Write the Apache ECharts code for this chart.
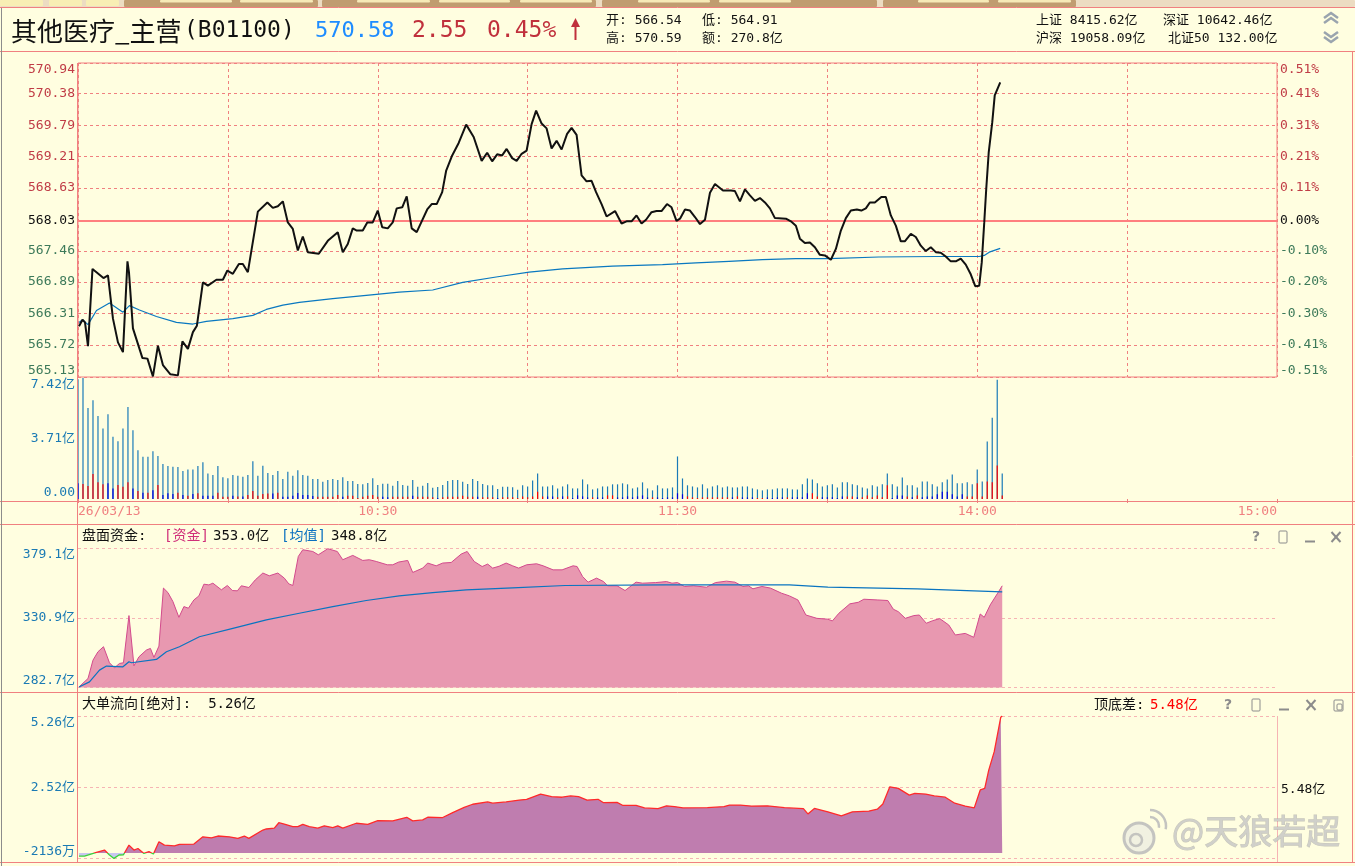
<!DOCTYPE html>
<html><head><meta charset="utf-8">
<script src="https://cdn.jsdelivr.net/npm/echarts@6/dist/echarts.min.js"></script>
<style>html,body{margin:0;padding:0;background:#fffee0;overflow:hidden}#c{width:1355px;height:866px}</style>
</head><body><div id="c"></div><script>
// ---------- DATA ----------
const preClose = 568.03;
const xLabelAt = [0, 60, 120, 180, 240];
const xLabels = ['26/03/13', '10:30', '11:30', '14:00', '15:00'];
const priceTicks = [565.13, 565.72, 566.31, 566.89, 567.46, 568.03, 568.63, 569.21, 569.79, 570.38, 570.94];
const volTicks = [0, 3.71, 7.42];
const capTicks = [282.7, 330.9, 379.1];
const bigTicks = [-0.2136, 2.52, 5.26];
const bigTickLabels = ['-2136万', '2.52亿', '5.26亿'];

// price line: [minute from 9:30, price]
const priceData = [[0.2,566.07],[0.9,566.19],[1.4,566.14],[2.0,565.70],[2.9,567.13],[5.1,566.96],[6.0,567.01],[7.0,566.21],[8.0,565.77],[9.0,565.59],
[9.9,567.27],[10.2,567.07],[11.0,566.03],[12.9,565.48],[13.9,565.47],[15.0,565.14],[16.0,565.71],[17.0,565.35],[18.5,565.18],[20.0,565.16],
[20.9,565.79],[22.0,565.65],[23.0,565.96],[23.8,566.08],[25.0,566.88],[26.0,566.82],[27.7,566.93],[29.0,566.93],[29.9,567.10],[31.0,567.04],
[32.2,567.22],[33.0,567.22],[34.0,567.07],[36.0,568.19],[37.9,568.36],[39.0,568.26],[40.0,568.29],[41.0,568.38],[42.0,567.99],[43.0,567.87],
[44.0,567.47],[45.0,567.73],[46.0,567.44],[48.2,567.41],[50.0,567.65],[52.0,567.81],[53.0,567.44],[54.0,567.59],[55.0,567.88],[55.8,567.84],
[57.0,567.84],[57.9,567.99],[59.0,567.99],[60.0,568.21],[60.9,567.90],[62.0,567.88],[63.0,567.99],[63.8,568.25],[64.9,568.27],[65.8,568.47],
[66.8,567.88],[67.8,567.81],[69.9,568.23],[70.8,568.33],[71.8,568.33],[72.9,568.55],[73.7,568.95],[74.9,569.23],[76.2,569.46],[77.7,569.80],
[79.2,569.57],[80.8,569.13],[81.9,569.28],[82.9,569.12],[83.9,569.25],[84.9,569.23],[85.8,569.35],[86.9,569.18],[87.8,569.13],[88.8,569.26],
[89.8,569.32],[90.8,569.81],[91.7,570.06],[92.8,569.82],[93.8,569.73],[94.8,569.36],[95.8,569.50],[96.8,569.34],[97.9,569.63],[98.8,569.74],
[99.8,569.61],[100.8,568.86],[101.8,568.75],[102.8,568.76],[103.7,568.55],[104.8,568.33],[105.8,568.10],[107.5,568.20],[108.8,567.97],[109.8,568.01],
[110.8,568.01],[111.8,568.12],[112.8,567.97],[113.7,568.04],[114.8,568.18],[115.8,568.20],[116.8,568.20],[117.9,568.33],[118.8,568.27],[119.8,568.02],
[120.5,568.06],[121.5,568.23],[122.5,568.21],[123.5,568.09],[124.5,567.96],[125.5,568.04],[126.5,568.54],[127.5,568.70],[129.1,568.58],[130.7,568.58],
[131.5,568.57],[132.5,568.38],[133.5,568.60],[134.5,568.49],[135.5,568.39],[136.5,568.44],[137.5,568.36],[138.5,568.25],[139.5,568.07],[141.7,568.06],
[142.7,568.01],[143.7,567.93],[144.5,567.69],[145.5,567.61],[146.5,567.62],[147.5,567.53],[148.5,567.39],[149.5,567.38],[150.7,567.30],[151.7,567.50],
[152.7,567.84],[153.7,568.07],[154.7,568.21],[155.9,568.23],[156.8,568.21],[157.7,568.25],[158.5,568.36],[159.5,568.36],[160.8,568.46],[161.7,568.46],
[162.7,568.12],[163.7,567.93],[164.7,567.64],[165.5,567.64],[166.7,567.78],[167.7,567.72],[168.7,567.56],[169.7,567.46],[170.7,567.53],[171.7,567.44],
[172.7,567.43],[173.7,567.36],[174.7,567.27],[175.7,567.27],[176.7,567.32],[177.7,567.21],[178.7,567.03],[179.6,566.81],[180.4,566.82],[180.9,567.25],
[181.4,567.99],[181.8,568.61],[182.3,569.29],[183.0,569.84],[183.5,570.34],[184.6,570.58]];

// average price line
const avgPriceData = [[0.2,566.14],[0.9,566.19],[2.0,566.10],[3.7,566.36],[6.3,566.50],[9.0,566.33],[10.3,566.45],[12.3,566.37],[15.7,566.25],[19.7,566.14],
[23.0,566.11],[25.7,566.16],[31.0,566.21],[35.0,566.27],[37.7,566.38],[41.0,566.46],[44.3,566.51],[51.0,566.58],[57.7,566.64],[64.3,566.70],
[71.0,566.74],[77.0,566.88],[83.7,566.98],[90.3,567.07],[97.0,567.13],[107.0,567.18],[117.0,567.21],[123.7,567.24],[130.3,567.27],[137.0,567.30],
[143.7,567.32],[150.3,567.32],[160.3,567.35],[171.7,567.36],[180.4,567.36],[181.4,567.38],[182.4,567.44],[184.6,567.51]];

// per-minute turnover (亿) and the coloured lower part (+ red / - blue)
const vol = [7.35,7.42,5.58,6.05,5.09,4.32,5.19,3.81,3.54,4.32,
5.64,4.22,2.99,2.59,2.59,2.93,2.63,2.14,2.02,1.98,
1.96,1.71,1.81,1.81,2.02,2.26,1.57,1.47,2.02,1.34,
1.28,1.47,1.43,1.36,1.47,2.32,1.43,2.04,1.59,1.47,
1.71,1.22,1.67,1.43,1.77,1.47,1.43,1.22,1.22,1.06,
1.16,1.22,1.16,1.34,1.10,1.10,0.92,0.90,0.98,1.28,
0.86,0.94,0.94,0.81,1.10,0.86,0.81,1.16,0.75,0.81,
0.98,0.69,0.73,0.86,1.10,1.16,1.16,1.06,0.92,1.22,
1.10,0.92,0.84,0.84,0.61,0.75,0.75,0.72,0.57,0.84,
0.77,1.14,1.57,0.77,0.77,0.84,0.65,0.77,0.90,0.65,
0.65,1.20,0.90,0.59,0.65,0.77,0.77,0.90,0.90,0.96,
0.90,0.65,0.71,1.02,0.65,0.53,0.84,0.65,0.65,0.71,
2.61,1.26,0.84,0.77,0.71,0.90,0.65,0.77,0.84,0.71,
0.77,0.71,0.71,0.77,0.77,0.65,0.59,0.53,0.59,0.59,
0.65,0.65,0.65,0.59,0.59,0.90,1.26,1.20,0.96,0.77,
0.84,0.90,0.71,1.02,1.02,0.90,0.84,0.71,0.65,0.84,
0.77,0.90,1.57,0.90,0.77,1.32,0.84,0.84,0.71,1.08,
1.08,0.90,0.77,1.02,1.20,1.51,0.96,0.96,1.02,0.90,
1.81,1.08,3.52,4.99,7.31,1.57];
const volPart = [-0.96,0.92,0.79,1.53,1.02,0.90,-0.96,-0.65,0.86,0.75,
1.02,-0.65,0.49,-0.39,0.39,-0.53,0.86,-0.24,-0.35,-0.31,
0.39,-0.24,0.20,-0.31,0.35,-0.20,-0.20,-0.20,0.39,0.14,
0.14,-0.20,0.16,-0.16,0.24,0.49,0.20,0.31,0.33,-0.33,
0.39,-0.14,-0.14,-0.20,-0.37,-0.24,-0.24,-0.18,0.14,0.14,
0.14,0.14,0.24,-0.14,0.20,0.20,0.06,0.14,0.20,0.24,
0.14,-0.14,-0.10,0.14,0.14,0.14,0.14,-0.20,0.14,0.14,
0.14,0.10,-0.06,0.10,0.14,0.14,0.14,0.20,0.14,0.14,
-0.14,0.10,0.10,0.10,-0.06,0.10,0.10,0.10,0.06,0.16,
0.10,0.16,0.45,0.16,-0.16,-0.16,0.10,-0.16,0.16,-0.06,
-0.22,-0.16,-0.10,0.10,-0.10,-0.10,0.22,0.22,-0.10,-0.10,
-0.16,-0.10,-0.16,-0.22,-0.10,0.10,-0.10,-0.06,-0.10,-0.10,
-0.35,-0.29,0.16,0.10,0.06,0.10,0.10,0.10,0.10,0.10,
0.10,-0.10,0.16,-0.10,-0.10,-0.10,0.06,0.06,-0.10,-0.06,
-0.10,-0.10,0.10,-0.10,-0.10,-0.10,-0.35,0.35,0.16,-0.10,
-0.10,-0.10,-0.06,-0.16,0.16,0.16,-0.10,0.10,0.22,0.10,
0.22,0.10,0.84,-0.06,-0.22,-0.22,0.16,-0.10,0.22,-0.10,
-0.16,-0.16,-0.29,-0.45,-0.45,-0.29,-0.16,-0.29,0.16,0.16,
0.96,0.16,1.08,1.02,2.06,0.22];

// 盘面资金 (亿)
const capData = [[0.2,283.1],[2.0,288.9],[3.0,301.6],[4.0,307.4],[5.1,310.9],[5.5,310.9],[6.3,299.8],[7.3,296.3],[8.3,299.3],[9.1,299.8],
[10.2,332.4],[11.2,297.7],[12.2,303.9],[13.7,308.6],[14.5,309.7],[15.2,303.5],[16.2,311.3],[17.1,351.4],[18.0,348.3],[19.0,342.1],
[20.2,331.2],[21.2,338.6],[22.1,337.5],[23.2,343.2],[24.2,346.0],[25.2,354.1],[26.2,353.6],[27.0,354.8],[28.7,350.2],[29.9,353.2],
[30.9,349.7],[31.9,349.5],[32.7,353.0],[34.2,351.8],[35.5,357.1],[37.0,361.8],[38.3,359.9],[40.0,361.8],[41.3,358.3],[42.2,354.3],
[43.0,353.2],[44.1,373.3],[45.0,377.9],[47.0,376.7],[48.1,374.4],[50.0,378.6],[51.9,376.7],[53.0,371.0],[55.0,374.0],[57.0,370.5],
[58.3,371.0],[59.7,369.8],[61.9,367.5],[63.0,367.5],[64.2,369.4],[66.0,370.5],[67.0,362.2],[69.0,365.2],[70.0,368.7],[71.7,366.8],
[73.0,368.7],[74.7,369.1],[76.7,374.9],[77.9,376.7],[79.3,369.8],[80.9,366.3],[82.0,368.0],[83.0,365.2],[84.3,366.5],[85.7,368.7],
[87.0,366.8],[88.2,365.2],[89.8,367.5],[91.8,368.2],[93.1,366.8],[95.1,364.0],[96.9,364.0],[99.1,366.8],[99.9,366.3],[101.0,359.4],
[102.1,355.5],[103.8,358.3],[105.2,355.9],[106.0,353.0],[107.9,353.0],[109.5,349.7],[111.7,355.5],[113.0,354.8],[115.6,355.2],[117.8,355.9],
[118.9,354.8],[120.0,355.2],[121.4,352.5],[123.2,353.0],[125.8,352.0],[127.6,355.2],[129.8,356.2],[131.5,355.5],[133.1,352.5],[134.2,353.0],
[135.1,350.9],[136.9,352.5],[138.6,351.4],[140.8,347.9],[142.4,346.0],[144.1,343.2],[145.7,332.8],[147.9,330.5],[150.1,329.9],[151.0,328.7],
[152.3,334.0],[154.5,340.5],[156.2,341.6],[157.3,343.7],[160.1,343.2],[162.1,342.8],[163.2,336.8],[164.2,335.1],[165.6,330.5],[167.3,332.4],
[168.4,332.8],[169.8,327.1],[171.1,328.9],[172.5,330.3],[174.3,325.9],[175.6,319.0],[177.6,320.1],[179.3,317.4],[180.6,333.5],[181.4,331.2],
[182.6,339.8],[184.0,347.4],[185.0,353.0]];
const capAvgData = [[0.2,283.1],[2.3,286.6],[4.3,294.7],[5.7,297.5],[9.0,297.0],[10.2,300.5],[10.7,299.8],[15.7,302.1],[17.7,307.4],[20.3,310.9],
[24.3,317.8],[31.0,323.6],[37.7,329.4],[44.3,334.0],[51.0,338.6],[57.7,342.8],[64.3,346.0],[71.0,348.3],[77.7,350.2],[87.0,351.6],
[97.5,353.2],[117.5,353.6],[142.4,353.6],[150.1,352.0],[168.0,350.9],[185.0,348.8]];

// 大单流向 (亿)
const bigData = [[0.2,-0.12],[1.3,-0.12],[3.7,0.02],[5.3,0.11],[6.3,-0.08],[7.2,-0.21],[8.2,-0.08],[9.1,-0.07],[10.2,0.30],[11.2,0.11],
[12.0,0.17],[13.2,-0.02],[14.2,0.05],[15.1,-0.04],[16.2,0.43],[17.3,0.30],[19.3,0.27],[20.3,0.33],[23.2,0.34],[25.0,0.62],
[26.7,0.58],[28.0,0.65],[30.3,0.62],[32.0,0.56],[33.3,0.65],[34.2,0.56],[37.0,0.88],[37.7,0.92],[39.3,0.95],[40.2,1.16],
[41.3,1.11],[43.0,1.01],[44.0,1.01],[45.0,1.10],[46.3,1.01],[48.0,0.95],[49.3,1.04],[51.0,0.97],[52.0,1.04],[53.0,0.95],
[55.7,1.14],[58.0,1.10],[60.0,1.24],[63.0,1.23],[65.8,1.37],[67.0,1.23],[69.0,1.27],[70.0,1.37],[73.0,1.36],[75.0,1.55],
[77.3,1.75],[79.0,1.87],[82.0,1.96],[83.0,1.91],[85.7,1.96],[88.3,2.03],[89.8,2.06],[92.6,2.26],[94.8,2.16],[96.9,2.14],
[98.6,2.19],[100.2,2.16],[101.9,2.03],[104.1,2.06],[105.2,1.93],[107.9,1.94],[109.0,1.83],[111.7,1.83],[113.4,1.73],[116.1,1.70],
[117.8,1.81],[119.4,1.78],[121.1,1.73],[126.0,1.74],[129.3,1.78],[130.4,1.84],[132.6,1.84],[134.8,1.80],[138.0,1.81],[141.4,1.74],
[145.2,1.70],[146.1,1.50],[147.4,1.71],[150.1,1.58],[152.8,1.42],[155.0,1.58],[158.3,1.61],[160.0,1.68],[161.1,1.88],[162.5,2.54],
[164.2,2.48],[166.4,2.22],[167.5,2.29],[169.7,2.26],[171.4,2.19],[173.6,2.14],[175.5,1.91],[177.6,1.80],[179.4,1.73],[180.6,2.42],
[181.5,2.48],[182.3,3.18],[183.4,3.89],[184.7,5.21],[185.0,5.26]];

// ---------- STYLE ----------
const MONO = '"DejaVu Sans Mono","Noto Sans CJK SC",monospace';
const CJK = '"Noto Sans CJK SC","DejaVu Sans",sans-serif';
const PINK = '#f08080', LPINK = '#f6b4b4';
const RED = '#c03c46', GREEN = '#3d7a5a', BLUE = '#1a7ab4';
const GL = 78, GW = 1199;

function priceColor(v) {
  v = parseFloat(v);
  if (Math.abs(v - preClose) < 0.001) return '#111';
  return v > preClose ? RED : GREEN;
}
function near(arr, v) { let b = 0; arr.forEach((a, i) => { if (Math.abs(a - v) < Math.abs(arr[b] - v)) b = i; }); return b; }

function T(text, x, y, fill, font, align) {
  return { type: 'text', silent: true, z: 50, style: { text, x, y, fill, font, align: align || 'left', verticalAlign: 'middle', textAlign: align || 'left', textVerticalAlign: 'middle' } };
}
function L(x1, y1, x2, y2, stroke, w) {
  return { type: 'line', silent: true, z: 40, shape: { x1, y1, x2, y2 }, style: { stroke, lineWidth: w || 1 } };
}
function R(x, y, w, h, fill, stroke) {
  return { type: 'rect', silent: true, z: 30, shape: { x, y, width: w, height: h, r: 1 }, style: { fill: fill || 'none', stroke: stroke || null, lineWidth: 1 } };
}
function PL(points, stroke, w) {
  return { type: 'polyline', silent: true, z: 40, shape: { points }, style: { stroke, lineWidth: w || 1, fill: 'none' } };
}

const g = [];
// top tab strip
g.push(R(0, 0, 1355, 7, '#ecdcc2'));
[[0, 43], [49, 82], [86, 119]].forEach(a => g.push(R(a[0], 0, a[1] - a[0], 6, '#f8eeb4')));
[[124, 318], [322, 596], [602, 877], [883, 1076]].forEach(a => g.push(R(a[0], 0, a[1] - a[0], 7, '#c09c70')));
[[160, 232], [240, 313], [357, 430], [439, 510], [520, 592], [638, 710], [719, 791], [918, 989], [998, 1071]].forEach(a => g.push(R(a[0], 0, a[1] - a[0], 2.5, '#f6eab8')));
// frame lines
g.push(L(0, 7.5, 1355, 7.5, PINK));
g.push(L(0, 51.5, 1355, 51.5, PINK));
g.push(L(0, 501.5, 1355, 501.5, PINK));
g.push(L(0, 524.5, 1355, 524.5, PINK));
g.push(L(0, 692.5, 1355, 692.5, PINK));
g.push(L(0, 862.5, 1355, 862.5, PINK));
g.push(L(77.5, 63, 77.5, 862, PINK));
g.push(L(1.5, 8, 1.5, 866, '#8c8c8c'));
g.push(L(1352.5, 51, 1352.5, 862, PINK));
g.push(L(1277.5, 716, 1277.5, 862, LPINK));
// header texts
g.push(T('其他医疗_主营', 11, 31, '#111', '26px ' + CJK));
g.push(T('(B01100)', 184, 31, '#111', '23px ' + MONO));
g.push(T('570.58', 315, 31, '#1e8cff', '22px ' + MONO));
g.push(T('2.55', 412, 31, '#c0303c', '23px ' + MONO));
g.push(T('0.45%', 487, 31, '#c0303c', '23px ' + MONO));
g.push(L(575.5, 40, 575.5, 22, '#c0303c', 2));
g.push({ type: 'polygon', silent: true, z: 40, shape: { points: [[571, 27], [575.5, 18], [580, 27]] }, style: { fill: '#c0303c' } });
g.push(T('开: 566.54', 606, 21, '#111', '13px ' + MONO));
g.push(T('高: 570.59', 606, 39, '#111', '13px ' + MONO));
g.push(T('低: 564.91', 702, 21, '#111', '13px ' + MONO));
g.push(T('额: 270.8亿', 702, 39, '#111', '13px ' + MONO));
g.push(T('上证 8415.62亿', 1036, 21, '#111', '13px ' + MONO));
g.push(T('深证 10642.46亿', 1163, 21, '#111', '13px ' + MONO));
g.push(T('沪深 19058.09亿', 1036, 39, '#111', '13px ' + MONO));
g.push(T('北证50 132.00亿', 1168, 39, '#111', '13px ' + MONO));
g.push(PL([[1324, 18], [1331, 13], [1338, 18]], '#9aa4ae', 2.5));
g.push(PL([[1324, 23], [1331, 18], [1338, 23]], '#9aa4ae', 2.5));
g.push(PL([[1324, 32], [1331, 37], [1338, 32]], '#9aa4ae', 2.5));
g.push(PL([[1324, 37], [1331, 42], [1338, 37]], '#9aa4ae', 2.5));
// middle panel title
g.push(T('盘面资金:', 82, 536, '#111', '14px ' + MONO));
g.push(T('[资金]', 164, 536, '#d0307a', '14px ' + MONO));
g.push(T('353.0亿', 213, 536, '#111', '14px ' + MONO));
g.push(T('[均值]', 281, 536, '#0a70c0', '14px ' + MONO));
g.push(T('348.8亿', 331, 536, '#111', '14px ' + MONO));
// bottom panel title
g.push(T('大单流向[绝对]:  5.26亿', 82, 704, '#111', '14px ' + MONO));
g.push(T('顶底差:', 1094, 705, '#111', '14px ' + MONO));
g.push(T('5.48亿', 1150, 705, '#ff0000', '14px ' + MONO));
g.push(T('5.48亿', 1281, 790, '#111', '13px ' + MONO));
// panel icons
function icons(y, xs, extra) {
  const c = '#8c8c8c';
  g.push(T('?', xs[0], y, c, 'bold 14px "DejaVu Sans"', 'center'));
  g.push(R(xs[1] - 4, y - 6, 8, 12, null, c));
  g.push(L(xs[2] - 5, y + 4.5, xs[2] + 5, y + 4.5, c, 2));
  g.push(L(xs[3] - 4.5, y - 5, xs[3] + 4.5, y + 5, c, 2));
  g.push(L(xs[3] + 4.5, y - 5, xs[3] - 4.5, y + 5, c, 2));
  if (extra) { g.push(R(xs[4] - 4, y - 5, 9, 11, null, c)); g.push(R(xs[4] - 1, y - 1, 5, 6, '#fffee0', c)); }
}
icons(537, [1256, 1283, 1310, 1336]);
icons(705, [1228, 1256, 1284, 1311, 1338], true);
// watermark
g.push({ type: 'circle', silent: true, z: 60, shape: { cx: 1139, cy: 838, r: 15 }, style: { fill: 'rgba(235,235,225,0.7)', stroke: '#c4c4c0', lineWidth: 3 } });
g.push({ type: 'circle', silent: true, z: 61, shape: { cx: 1136, cy: 840, r: 6 }, style: { fill: 'none', stroke: '#c4c4c0', lineWidth: 2.5 } });
g.push({ type: 'arc', silent: true, z: 61, shape: { cx: 1150, cy: 826, r: 9, startAngle: -Math.PI / 2, endAngle: 0.2 }, style: { stroke: '#c4c4c0', lineWidth: 2.5, fill: 'none' } });
g.push({ type: 'arc', silent: true, z: 61, shape: { cx: 1150, cy: 826, r: 16, startAngle: -Math.PI / 2, endAngle: 0.2 }, style: { stroke: '#c4c4c0', lineWidth: 2.5, fill: 'none' } });
g.push({ type: 'text', silent: true, z: 60, style: { text: '@天狼若超', x: 1172, y: 831, fill: 'rgba(205,205,200,0.95)', stroke: 'rgba(150,150,150,0.5)', lineWidth: 1, font: '34px ' + CJK, align: 'left', verticalAlign: 'middle', textAlign: 'left', textVerticalAlign: 'middle' } });

// ---------- CHART ----------
const chart = echarts.init(document.getElementById('c'), null, { renderer: 'canvas' });
const hiddenX = (gi, extra) => Object.assign({
  type: 'value', gridIndex: gi, min: 0, max: 240, interval: 30,
  axisLine: { show: false }, axisTick: { show: false }, axisLabel: { show: false }, splitLine: { show: false }
}, extra || {});
const baseY = (gi, min, max, ticks, fmt, color, extra) => Object.assign({
  type: 'value', gridIndex: gi, min, max, position: 'left',
  axisLine: { show: false },
  axisTick: { show: false, customValues: ticks },
  axisLabel: {
    customValues: ticks, formatter: fmt, color, fontFamily: MONO, fontSize: 13, margin: 3,
    showMinLabel: true, showMaxLabel: true, verticalAlignMinLabel: 'bottom', verticalAlignMaxLabel: 'top'
  },
  splitLine: { show: true, lineStyle: { color: LPINK, type: [3, 3], width: 1 } }
}, extra || {});

chart.setOption({
  animation: false,
  backgroundColor: '#fffee0',
  textStyle: { fontFamily: MONO },
  grid: [
    { left: GL, top: 63, width: GW, height: 314, show: true, borderColor: PINK, borderWidth: 1, backgroundColor: 'transparent', outerBoundsMode: 'none', containLabel: false },
    { left: GL, top: 378, width: GW, height: 121, outerBoundsMode: 'none', containLabel: false },
    { left: GL, top: 548, width: GW, height: 139.5, outerBoundsMode: 'none', containLabel: false },
    { left: GL, top: 716, width: GW, height: 142.5, outerBoundsMode: 'none', containLabel: false }
  ],
  xAxis: [
    hiddenX(0, { splitLine: { show: true, lineStyle: { color: PINK, type: [3, 3], width: 1 } } }),
    hiddenX(1, {
      axisTick: { show: true, length: 4, inside: false, lineStyle: { color: PINK } },
      axisLabel: {
        show: true, customValues: xLabelAt, formatter: v => xLabels[near(xLabelAt, v)],
        color: PINK, fontFamily: MONO, fontSize: 13, margin: 6, alignMinLabel: 'left', alignMaxLabel: 'right',
        showMinLabel: true, showMaxLabel: true
      }
    }),
    hiddenX(2),
    hiddenX(3)
  ],
  yAxis: [
    baseY(0, 565.13, 570.94, priceTicks, v => parseFloat(v).toFixed(2), priceColor,
      { splitLine: { show: true, lineStyle: { color: PINK, type: [3, 3], width: 1 } } }),
    baseY(0, 565.13, 570.94, priceTicks, v => ((parseFloat(v) / preClose - 1) * 100).toFixed(2) + '%', priceColor,
      { position: 'right', splitLine: { show: false } }),
    baseY(1, 0, 7.42, volTicks, v => (parseFloat(v) === 0 ? '0.00' : parseFloat(v).toFixed(2) + '亿'), BLUE,
      { splitLine: { show: false } }),
    baseY(2, 282.7, 379.1, capTicks, v => parseFloat(v).toFixed(1) + '亿', BLUE),
    baseY(3, -0.2136, 5.26, bigTicks, v => bigTickLabels[near(bigTicks, parseFloat(v))], BLUE)
  ],
  visualMap: [
    { type: 'piecewise', show: false, seriesIndex: 6, dimension: 1,
      pieces: [{ gte: -1, lt: 0, color: '#c8c6f0' }, { gte: 0, lte: 10, color: '#bf7daf' }] },
    { type: 'piecewise', show: false, seriesIndex: 7, dimension: 1,
      pieces: [{ gte: -1, lt: 0, color: '#3ad23a' }, { gte: 0, lte: 10, color: '#ff2a2a' }] }
  ],
  series: [
    {
      type: 'line', xAxisIndex: 0, yAxisIndex: 0, data: priceData, symbol: 'none', z: 5,
      lineStyle: { color: '#111', width: 2 },
      markLine: { silent: true, symbol: 'none', label: { show: false }, data: [{ yAxis: preClose }], lineStyle: { color: '#ff7f7f', width: 2, type: 'solid' } }
    },
    { type: 'line', xAxisIndex: 0, yAxisIndex: 0, data: avgPriceData, symbol: 'none', z: 4, lineStyle: { color: '#0a78c0', width: 1.2 } },
    {
      type: 'bar', xAxisIndex: 1, yAxisIndex: 2, barWidth: 1.2, barGap: '-100%',
      data: vol.map((v, i) => [i, v]), itemStyle: { color: '#1a7ab8' }
    },
    {
      type: 'bar', xAxisIndex: 1, yAxisIndex: 2, barWidth: 1.2, barGap: '-100%',
      data: volPart.map((v, i) => ({ value: [i, Math.abs(v)], itemStyle: { color: v >= 0 ? '#ff0000' : '#0000dd' } }))
    },
    {
      type: 'line', xAxisIndex: 2, yAxisIndex: 3, data: capData, symbol: 'none',
      lineStyle: { color: '#d24a8c', width: 1 }, areaStyle: { color: '#e898b0', opacity: 1, origin: 'start' }
    },
    { type: 'line', xAxisIndex: 2, yAxisIndex: 3, data: capAvgData, symbol: 'none', lineStyle: { color: '#0a74c0', width: 1.2 } },
    {
      type: 'line', xAxisIndex: 3, yAxisIndex: 4, data: bigData, symbol: 'none',
      lineStyle: { width: 0, opacity: 0 }, areaStyle: { opacity: 1 }
    },
    { type: 'line', xAxisIndex: 3, yAxisIndex: 4, data: bigData, symbol: 'none', lineStyle: { width: 1.3 } }
  ],
  graphic: g
});
</script></body></html>
